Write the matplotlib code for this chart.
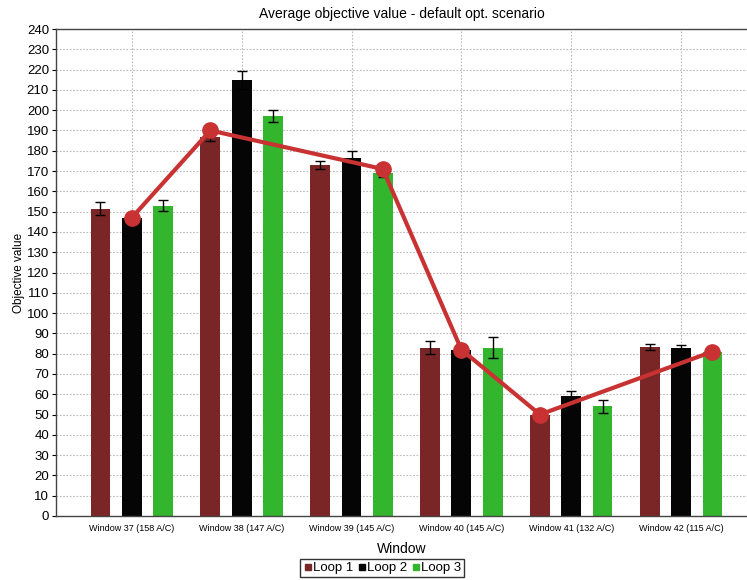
import matplotlib
matplotlib.use("Agg")
import matplotlib.pyplot as plt
import numpy as np

plt.rcParams["font.family"] = ["Liberation Sans", "DejaVu Sans"]

windows = ["Window 37 (158 A/C)", "Window 38 (147 A/C)", "Window 39 (145 A/C)",
           "Window 40 (145 A/C)", "Window 41 (132 A/C)", "Window 42 (115 A/C)"]
loop_names = ["Loop 1", "Loop 2", "Loop 3"]
loop1 = [151.5, 187, 173, 83, 50, 83.5]
loop2 = [147, 215, 176.5, 82, 59, 83]
loop3 = [153, 197, 169, 83, 54, 81]
err1 = [3, 2, 2, 3, 2, 1.5]
err2 = [2.5, 4.5, 3.5, 3, 2.5, 1.5]
err3 = [2.5, 3, 2, 5, 3, 2]
line_vals = [147, 190, 171, 82, 50, 81]
line_loop = [1, 0, 2, 1, 0, 2]  # which loop's bar each line point sits on

colors = ["#7a2626", "#050505", "#33b52e"]
line_color = "#c83232"

fig = plt.figure(figsize=(7.47, 5.80), dpi=100)
ax = fig.add_axes([56/747, 64/580, 1 - 56/747, (516-29)/580])

x = np.arange(len(windows))
width = 0.18
offs = [-0.285, 0, 0.285]
for i, (vals, errs) in enumerate(zip([loop1, loop2, loop3], [err1, err2, err3])):
    ax.bar(x + offs[i], vals, width, color=colors[i], label=loop_names[i], zorder=2)
    ax.errorbar(x + offs[i], vals, yerr=errs, fmt="none", ecolor="black",
                elinewidth=1, capsize=3.5, capthick=1, zorder=3)

lx = x + np.array([offs[k] for k in line_loop])
ax.plot(lx, line_vals, color=line_color, lw=3, marker="o", ms=11,
        markerfacecolor=line_color, markeredgecolor=line_color, zorder=4)

ax.set_xlim(-0.69, 5.6)
ax.set_ylim(0, 240)
ax.set_yticks(np.arange(0, 241, 10))
ax.set_xticks(x)
ax.set_xticklabels(windows, fontsize=6.5, color="black")
ax.tick_params(axis="y", labelsize=9.5, length=3, pad=2)
ax.tick_params(axis="x", length=0, pad=6)
ax.grid(True, color="#bbbbbb", linestyle=(0, (1.5, 1.5)), linewidth=0.8, zorder=0)
ax.set_axisbelow(True)
ax.spines["right"].set_visible(False)
for s in ["left", "bottom", "top"]:
    ax.spines[s].set_color("#444444")
    ax.spines[s].set_linewidth(1)

ax.set_title("Average objective value - default opt. scenario", fontsize=10, pad=8)
ax.set_ylabel("Objective value", fontsize=8.5, labelpad=1)
ax.set_xlabel("Window", fontsize=10, labelpad=6)

handles = [plt.Line2D([], [], marker="s", linestyle="none", color=c, markersize=4.5) for c in colors]
leg = fig.legend(handles, loop_names, loc="center", bbox_to_anchor=(382/747, 1 - 568/580),
                 ncol=3, fontsize=9.5, frameon=True, fancybox=False, handletextpad=0.05,
                 columnspacing=0.3, borderpad=0.2, borderaxespad=0, handlelength=0.7)
leg.get_frame().set_edgecolor("black")
leg.get_frame().set_linewidth(1)

fig.savefig("out.png", dpi=100)
